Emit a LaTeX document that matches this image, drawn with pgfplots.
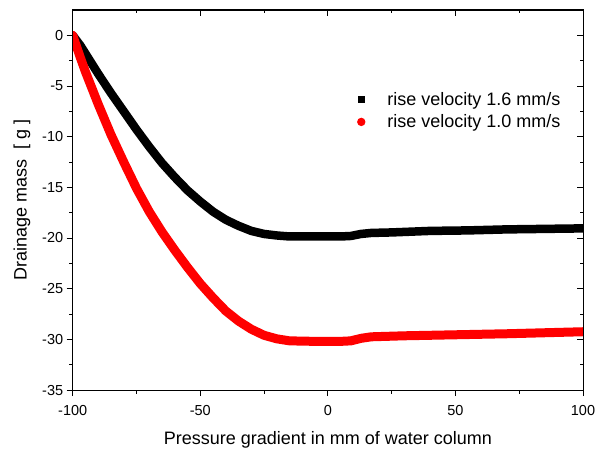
\documentclass[border=0pt]{standalone}
\usepackage{pgfplots}
\pgfplotsset{compat=1.18}
\usepackage{fontspec}
\setmainfont{Liberation Sans}
\pgfplotstableread{
x y
-100 0
-97 -1.0
-94 -2.2
-90 -3.8
-85 -5.7
-80 -7.5
-75 -9.3
-70 -11.0
-65 -12.6
-60 -14.0
-55 -15.3
-50 -16.4
-45 -17.4
-40 -18.2
-35 -18.8
-30 -19.3
-25 -19.6
-20 -19.75
-15 -19.85
-10 -19.85
0 -19.85
5 -19.85
9 -19.8
13 -19.6
17 -19.5
25 -19.45
40 -19.3
55 -19.25
70 -19.15
85 -19.1
100 -19.05
}\blackdata
\pgfplotstableread{
x y
-100 0
-97 -2.2
-95 -3.6
-90 -6.8
-85 -9.8
-80 -12.5
-75 -15.1
-70 -17.4
-65 -19.4
-60 -21.2
-55 -22.9
-50 -24.5
-45 -25.9
-40 -27.2
-35 -28.2
-30 -29.0
-25 -29.6
-20 -29.95
-15 -30.15
-5 -30.2
5 -30.2
9 -30.15
13 -29.9
17 -29.75
30 -29.65
50 -29.55
70 -29.45
85 -29.35
100 -29.25
}\reddata
\begin{document}
\begin{tikzpicture}
\pgfplotsset{
  common/.style={
    width=510.3pt, height=380pt, scale only axis,
    xmin=-100, xmax=100, ymin=-35, ymax=2.5,
    xtick={-100,-50,0,50,100},
    ytick={-35,-30,-25,-20,-15,-10,-5,0},
    minor x tick num=1, minor y tick num=1,
    major tick length=6pt, minor tick length=3.5pt,
    axis line style={line width=1pt},
    every tick/.style={black, line width=1pt},
  }
}
\begin{axis}[common,
  xtick pos=bottom, ytick pos=left, tick align=outside,
  /pgf/number format/assume math mode=true,
  tick label style={font=\fontsize{14.5}{17}\selectfont},
  xticklabel style={yshift=-6pt},
  label style={font=\fontsize{18}{21}\selectfont},
  xlabel={Pressure gradient in mm of water column},
  ylabel={Drainage mass \ [ g ]},
  xlabel style={at={(axis description cs:0.5,-0.1447)}, anchor=base},
  ylabel style={at={(axis description cs:-0.0901,0.5)}, anchor=base},
  legend cell align=left,
  legend style={draw=none, fill=none, at={(axis description cs:0.551,0.795)}, anchor=north west,
    font=\fontsize{18}{21}\selectfont, row sep=4pt},
]
\addplot[black, line width=8.5pt, line join=round, line cap=round,
  legend image code/.code={\path[fill=black, draw=none] (-3.7pt,-3.7pt) rectangle (3.7pt,3.7pt); \path[draw=none] (0,0) -- (24pt,0);}]
  table[x=x,y=y] {\blackdata};
\addlegendentry{rise velocity 1.6 mm/s}
\addplot[red, line width=9pt, line join=round, line cap=round,
  legend image code/.code={\path[fill=red, draw=none] (0,0) circle (4.2pt); \path[draw=none] (0,0) -- (24pt,0);}]
  table[x=x,y=y] {\reddata};
\addlegendentry{rise velocity 1.0 mm/s}
\end{axis}
\begin{axis}[common,
  xtick pos=top, ytick pos=right, tick align=inside,
  xticklabels={}, yticklabels={},
]
\end{axis}
\pgfresetboundingbox
\path[use as bounding box] ([xshift=-72.7pt,yshift=-61pt]current axis.south west) rectangle ([xshift=18pt,yshift=10pt]current axis.north east);
\end{tikzpicture}
\end{document}
